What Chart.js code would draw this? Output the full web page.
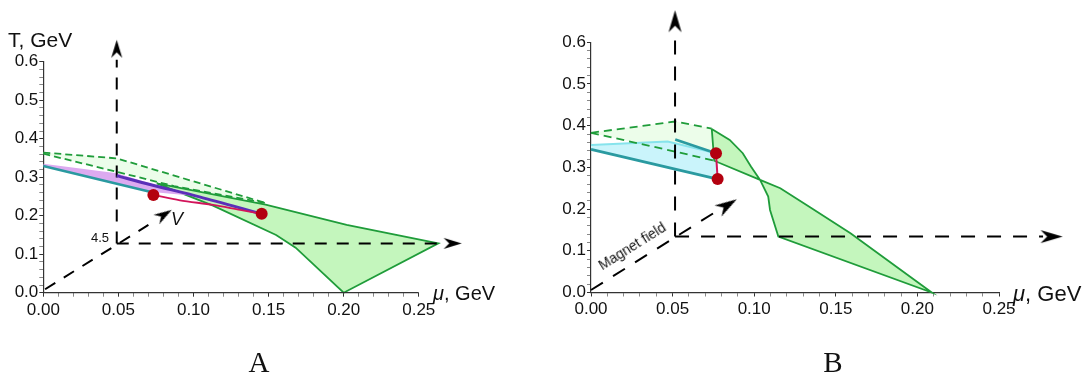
<!DOCTYPE html>
<html>
<head>
<meta charset="utf-8">
<script src="https://cdn.jsdelivr.net/npm/chart.js@4.4.1/dist/chart.umd.min.js"></script>
<style>
  body { margin: 0; background: #fff; overflow: hidden; }
  #wrap { position: relative; width: 1091px; height: 376px; }
  canvas { position: absolute; top: 0; }
  .lbl { position: absolute; white-space: nowrap; line-height: 1; font-family: 'Liberation Sans', Arial, sans-serif; color: #111; }
  .cap { position: absolute; line-height: 1; font-family: 'Liberation Serif', 'DejaVu Serif', serif; font-size: 29px; color: #111; transform: translateX(-50%); }
</style>
</head>
<body>
<div id="wrap">
  <canvas id="chartA" width="545" height="376" style="left:0"></canvas>
  <canvas id="chartB" width="546" height="376" style="left:545px"></canvas>

  <div class="lbl" style="left:8px;top:29px;font-size:21px">T, GeV</div>
  <div class="lbl" style="left:433px;top:283px;font-size:20px"><i>μ</i>, GeV</div>
  <div class="lbl" style="left:91px;top:231px;font-size:13px">4.5</div>
  <div class="lbl" style="left:171px;top:210px;font-size:18px;font-style:italic">V</div>
  <div class="cap" style="left:259px;top:348px">A</div>

  <div class="lbl" style="left:1013px;top:283px;font-size:22px"><i>μ</i>, GeV</div>
  <div class="lbl" style="left:632px;top:246px;font-size:14px;transform:translate(-50%,-50%) rotate(-32deg)">Magnet field</div>
  <div class="cap" style="left:833px;top:348px">B</div>
</div>

<script>
// axes
const xTickLabels = ['0.00', '0.05', '0.10', '0.15', '0.20', '0.25'];
const yTickLabels = ['0.0', '0.1', '0.2', '0.3', '0.4', '0.5', '0.6'];

// panel A  [mu, T]
const aDashTop = [[0, 0.364], [0.0489, 0.349], [0.148, 0.233]];
const aDashLow = [[0, 0.361], [0.0489, 0.314], [0.087, 0.277], [0.148, 0.233]];
const aGreen = [[0.0755, 0.284], [0.148, 0.229], [0.202, 0.176], [0.263, 0.128], [0.2, 0.0],
                [0.168, 0.117], [0.155, 0.15], [0.113, 0.226], [0.0755, 0.284]];
const aViolet = [[0, 0.335], [0.0489, 0.31], [0.071, 0.284], [0.1, 0.252], [0.085, 0.257],
                 [0.071, 0.262], [0.0489, 0.283], [0, 0.329], [0, 0.335]];
const aTeal = [[0, 0.329], [0.0489, 0.283], [0.071, 0.262]];
const aPurple = [[0.0489, 0.304], [0.071, 0.281], [0.104, 0.249], [0.145, 0.205]];
const aRed = [[0.0733, 0.254], [0.091, 0.24], [0.113, 0.228], [0.131, 0.215], [0.1454, 0.205]];
const aDots = [[0.0733, 0.254], [0.1454, 0.205]];
const aAxisUp = [[0.0489, 0.128], [0.0489, 0.605]];
const aAxisRight = [[0.0489, 0.128], [0.266, 0.128]];
const aAxisDiag = [[0.0012, 0.009], [0.07, 0.176]];
const aArrowTips = [[0.0489, 0.657], [0.2786, 0.128], [0.0855, 0.215]];
const aArrowTurn = [0, 90, 58];
const aBaseLine = [[0, 0], [0.25, 0]];

// panel B  [mu, T]
const bDashTop = [[0, 0.383], [0.0515, 0.41], [0.074, 0.393]];
const bDashLow = [[0, 0.383], [0.0515, 0.338], [0.0755, 0.316]];
const bCyanTop = [[0, 0.354], [0.047, 0.362], [0.0766, 0.334]];
const bTealLow = [[0, 0.343], [0.0776, 0.272]];
const bTealShort = [[0.0516, 0.367], [0.0766, 0.334]];
const bGreen = [[0.074, 0.392], [0.085, 0.366], [0.093, 0.334], [0.098, 0.302], [0.1036, 0.27],
                [0.1086, 0.23], [0.1097, 0.198], [0.1148, 0.134], [0.2088, 0.0], [0.159, 0.142],
                [0.134, 0.205], [0.116, 0.25], [0.1036, 0.27], [0.0755, 0.316], [0.074, 0.392]];
const bRed = [[0.0766, 0.334], [0.0776, 0.272]];
const bAxisUp = [[0.0515, 0.134], [0.0515, 0.625]];
const bAxisRight = [[0.0515, 0.134], [0.277, 0.134]];
const bAxisDiag = [[0, 0.006], [0.075, 0.19]];
const bArrowTips = [[0.0515, 0.677], [0.289, 0.134], [0.0893, 0.2235]];
const bArrowTurn = [0, 90, 58];

const GREEN = '#1f9c3a';
const pts = arr => arr.map(([x, y]) => ({x, y}));

// stealth arrow head, tip at the canvas centre, pointing up
function arrowHead(len, wid) {
    const c = document.createElement('canvas');
    c.width = Math.ceil(wid) + 2;
    c.height = Math.ceil(len) * 2 + 2;
    const g = c.getContext('2d');
    const cx = c.width / 2, cy = c.height / 2;
    g.fillStyle = '#000';
    g.beginPath();
    g.moveTo(cx, cy);
    g.lineTo(cx + wid / 2, cy + len);
    g.lineTo(cx, cy + len * 0.7);
    g.lineTo(cx - wid / 2, cy + len);
    g.closePath();
    g.fill();
    return c;
}

function line(data, color, width, order, extra) {
    return Object.assign({
        data: pts(data), borderColor: color, borderWidth: width, pointRadius: 0,
        fill: false, clip: false, tension: 0, order: order
    }, extra || {});
}

function shape(data, fillColor, order, stroke, width) {
    return line(data, stroke || 'rgba(0,0,0,0)', stroke ? width : 0, order,
        {fill: 'shape', backgroundColor: fillColor});
}

// big radius only so the head is not culled outside the plot area
function arrows(tips, turns, head, order) {
    return {
        data: pts(tips), showLine: false, pointStyle: head, pointRotation: turns,
        pointRadius: 90, pointBorderWidth: 0, clip: false, order: order
    };
}

function dots(data, order) {
    return {
        data: pts(data), showLine: false, pointRadius: 6, pointBorderWidth: 0,
        pointBackgroundColor: '#b3000f', clip: false, order: order
    };
}

function makeOptions(xMax, pad, showXBorder) {
    const font = {family: 'Liberation Sans', size: 17};
    return {
        responsive: false,
        animation: false,
        events: [],
        layout: {padding: pad, autoPadding: false},
        plugins: {legend: {display: false}, tooltip: {enabled: false}},
        scales: {
            x: {
                type: 'linear', min: 0, max: xMax,
                afterFit: s => { s.height = 30; },
                border: {display: showXBorder, color: '#333', width: 1.2},
                grid: {
                    drawOnChartArea: false, tickLength: 4,
                    tickColor: c => (c.tick && c.tick.value > 0.2501) ? 'rgba(0,0,0,0)' :
                        (Math.round(c.tick.value * 100) % 5 === 0 ? '#333' : '#888')
                },
                ticks: {
                    stepSize: 0.01, autoSkip: false, maxRotation: 0, padding: 3,
                    font: font, color: '#111',
                    callback: v => {
                        const k = Math.round(v * 100);
                        return (k % 5 === 0 && k / 5 < xTickLabels.length) ? xTickLabels[k / 5] : '';
                    }
                }
            },
            y: {
                type: 'linear', min: 0, max: 0.6,
                afterFit: s => { s.width = pad.left0; },
                border: {display: true, color: '#333', width: 1.2},
                grid: {
                    drawOnChartArea: false, tickLength: 4,
                    tickColor: c => Math.round(c.tick.value * 100) % 10 === 0 ? '#333' : '#888'
                },
                ticks: {
                    stepSize: 0.02, autoSkip: false, padding: 1,
                    font: font, color: '#111',
                    callback: v => {
                        const k = Math.round(v * 100);
                        return k % 10 === 0 ? yTickLabels[k / 10] : '';
                    }
                }
            }
        }
    };
}

document.addEventListener('DOMContentLoaded', () => {
    const headA = arrowHead(18, 11);
    const headB = arrowHead(22, 13);

    // panel A
    const padA = {left: 0, right: 96.2, top: 61.7, bottom: 53.3, left0: 43.3};
    new Chart(document.getElementById('chartA'), {
        type: 'line',
        data: {
            datasets: [
                shape(aDashTop.concat(aDashLow.slice().reverse()), '#ecfdea', 30),
                shape(aGreen, '#c4f6bd', 28, GREEN, 1.8),
                shape(aViolet, '#dcaaf0', 26),
                line(aDashTop, GREEN, 1.8, 24, {borderDash: [7, 4]}),
                line(aDashLow, GREEN, 1.8, 24, {borderDash: [7, 4]}),
                line(aAxisUp, '#000', 2, 20, {borderDash: [12, 10]}),
                line(aAxisRight, '#000', 2, 20, {borderDash: [12, 10]}),
                line(aAxisDiag, '#000', 2, 20, {borderDash: [12, 10]}),
                line(aTeal, '#2a9aa0', 2.6, 16),
                line(aPurple, '#5a2fb8', 3, 14, {tension: 0.3}),
                line(aRed, '#d2145a', 1.8, 12, {tension: 0.3}),
                dots(aDots, 10),
                arrows(aArrowTips, aArrowTurn, headA, 8),
                line(aBaseLine, '#333', 1.2, 6)
            ]
        },
        options: makeOptions(0.27, padA, false)
    });

    // panel B
    const padB = {left: 0, right: 92, top: 42.3, bottom: 53.5, left0: 46};
    new Chart(document.getElementById('chartB'), {
        type: 'line',
        data: {
            datasets: [
                shape(bDashTop.concat(bDashLow.slice().reverse()), '#ecfdea', 30),
                shape(bCyanTop.concat(bTealLow.slice().reverse()), '#caf4fb', 28),
                line(bCyanTop, '#86e3ec', 2, 27),
                shape(bGreen, '#c4f6bd', 26, GREEN, 1.8),
                line(bDashTop, GREEN, 1.8, 24, {borderDash: [8, 5]}),
                line(bDashLow, GREEN, 1.8, 24, {borderDash: [8, 5]}),
                line(bAxisUp, '#000', 2, 20, {borderDash: [14, 12]}),
                line(bAxisRight, '#000', 2, 20, {borderDash: [14, 12]}),
                line(bAxisDiag, '#000', 2, 20, {borderDash: [14, 12]}),
                line(bTealLow, '#2a9aa0', 2.8, 16),
                line(bTealShort, '#2a9aa0', 2.8, 16),
                line(bRed, '#d2145a', 2, 12),
                dots(bRed, 10),
                arrows(bArrowTips, bArrowTurn, headB, 8)
            ]
        },
        options: makeOptions(0.25, padB, true)
    });
});
</script>
</body>
</html>
